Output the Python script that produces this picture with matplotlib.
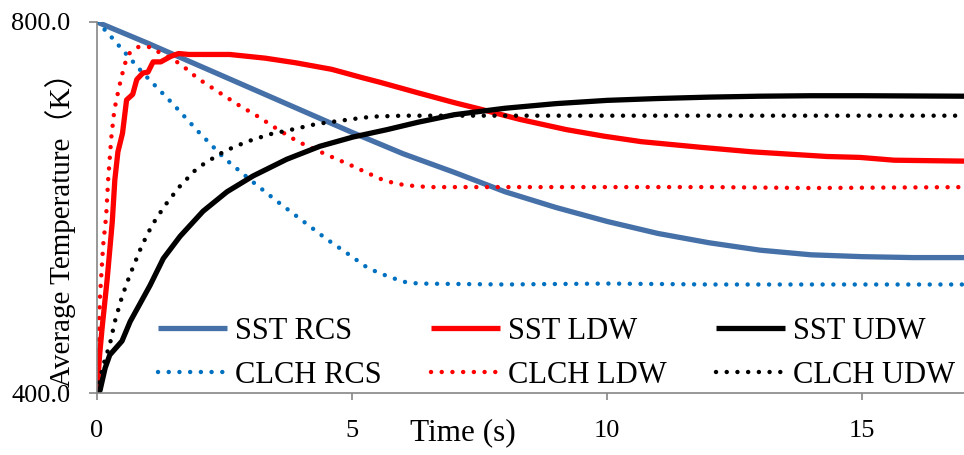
import matplotlib
matplotlib.use("Agg")
import matplotlib.pyplot as plt

# values (time in s, temperature in K)
t_sst_rcs = [0, 1, 2, 3, 4, 5, 6, 7, 8, 9, 10, 11, 12, 13, 14, 15, 16, 17]
T_sst_rcs = [800, 777, 753, 729, 705, 681, 658, 638, 617, 600, 585, 572, 562, 554, 549,
             547, 546, 546]

t_clch_rcs = [0, 0.2, 0.5, 0.9, 1.5, 2.0, 2.5, 3.0, 3.5, 4.0, 4.5, 5.0, 5.25, 5.5, 5.75,
              6.0, 6.3, 8, 10, 12, 14, 17]
T_clch_rcs = [800, 789, 770, 745, 711, 681, 653, 630, 608, 587, 566, 547, 537, 530, 525,
              520, 518, 517, 518, 517, 517, 517]

t_sst_ldw = [0, 0.05, 0.1, 0.2, 0.3, 0.35, 0.41, 0.5, 0.58, 0.7, 0.78, 0.9, 1.0, 1.1, 1.25,
             1.45, 1.6, 1.8, 2.6, 3.3, 3.9, 4.6, 5.2, 5.55, 6.27, 7.01, 7.52, 8.29, 9.2,
             9.93, 10.67, 11.82, 12.85, 14.31, 14.96, 15.63, 17]
T_sst_ldw = [400, 440, 470, 523, 585, 630, 660, 680, 716, 722, 738, 745, 746, 757, 757,
             763, 766, 765, 765, 761, 756, 749, 740, 735, 724, 713, 706, 695, 684,
             677, 671, 665, 660, 655, 654, 651, 650]

t_clch_ldw = [0, 0.03, 0.06, 0.12, 0.18, 0.22, 0.28, 0.34, 0.43, 0.54, 0.63, 0.8, 1.04, 1.23,
              1.63, 1.98, 2.37, 2.76, 3.16, 3.55, 3.94, 4.5, 5.0, 5.55, 5.84, 6.06, 6.5, 8, 10,
              12, 14, 17]
T_clch_ldw = [400, 460, 505, 559, 591, 631, 675, 705, 729, 754, 766, 773, 773, 767,
              755, 739, 725, 711, 698, 684, 671, 657, 645, 631, 626, 624, 622, 622, 622,
              622, 621, 622]

t_sst_udw = [0, 0.06, 0.16, 0.25, 0.49, 0.65, 0.9, 1.04, 1.3, 1.63, 2.08, 2.55, 3.06, 3.72,
             4.37, 5.02, 5.69, 6.3, 7, 8, 9, 10, 11, 12, 13, 14, 15, 17]
T_sst_udw = [400, 403, 427, 441, 456, 477, 502, 516, 545, 569, 596, 617, 634, 652,
             666, 676, 684, 692, 700, 707, 712, 715.5, 717.5, 719, 720, 720.5, 720.5, 720]

t_clch_udw = [0, 0.06, 0.16, 0.25, 0.35, 0.47, 0.55, 0.65, 0.88, 1.08, 1.33, 1.61, 1.94, 2.12,
              2.51, 2.94, 3.39, 3.82, 4.3, 4.96, 5.4, 6.0, 7, 10, 14, 17]
T_clch_udw = [400, 416, 437, 452, 477, 500, 513, 528, 559, 581, 602, 622, 641, 648,
              661, 671, 679, 684, 690, 695, 698, 699, 699, 699, 699, 699]

plt.rcParams['font.family'] = ['Liberation Serif', 'Noto Sans CJK SC']

fig = plt.figure(figsize=(9.64, 4.55), dpi=100)
ax = fig.add_axes([97 / 964, 62 / 455, 867 / 964, 371 / 455])

solid = dict(lw=3.8, solid_capstyle='butt')
dotted = dict(lw=3.2, linestyle=(0, (0.01, 2.4)), dash_capstyle='round')

l1, = ax.plot(t_sst_rcs, T_sst_rcs, color='#4670A8', label='SST RCS', **solid)
l4, = ax.plot(t_clch_rcs, T_clch_rcs, color='#0070C0', label='CLCH RCS', **dotted)
l2, = ax.plot(t_sst_ldw, T_sst_ldw, color='#FF0000', label='SST LDW', **solid)
l5, = ax.plot(t_clch_ldw, T_clch_ldw, color='#FF0000', label='CLCH LDW', **dotted)
l3, = ax.plot(t_sst_udw, T_sst_udw, color='black', label='SST UDW', **solid)
l6, = ax.plot(t_clch_udw, T_clch_udw, color='black', label='CLCH UDW', **dotted)

ax.set_xlim(0, 17)
ax.set_ylim(400, 800)
ax.set_xticks([0, 5, 10, 15])
ax.set_yticks([400, 800])
ax.set_yticklabels(['400.0', '800.0'])

for s in ['top', 'right']:
    ax.spines[s].set_visible(False)
for s in ['left', 'bottom']:
    ax.spines[s].set_color('#868686')
    ax.spines[s].set_linewidth(1.2)
ax.tick_params(axis='y', colors='#868686', labelcolor='black', length=6, width=1.2,
               labelsize=19, pad=13)
ax.tick_params(axis='x', colors='#868686', labelcolor='black', length=5, width=1.2,
               labelsize=19, pad=14.5)

fig.text(463 / 964, 1 - 433 / 455, 'Time (s)', ha='center', va='center', fontsize=22.5)
fig.text(61 / 964, 1 - 223 / 455, 'Average Temperature（K）', ha='center', va='center',
         rotation=90, fontsize=21)

ax.legend(handles=[l1, l4, l2, l5, l3, l6], ncol=3, frameon=False, fontsize=22,
          loc='lower left', bbox_to_anchor=(158 / 964, 1 - 390 / 455),
          bbox_transform=fig.transFigure, borderpad=0, borderaxespad=0,
          handlelength=2.27, handletextpad=0.26, columnspacing=1.6, labelspacing=0.49)

fig.savefig('out.png', dpi=100)
